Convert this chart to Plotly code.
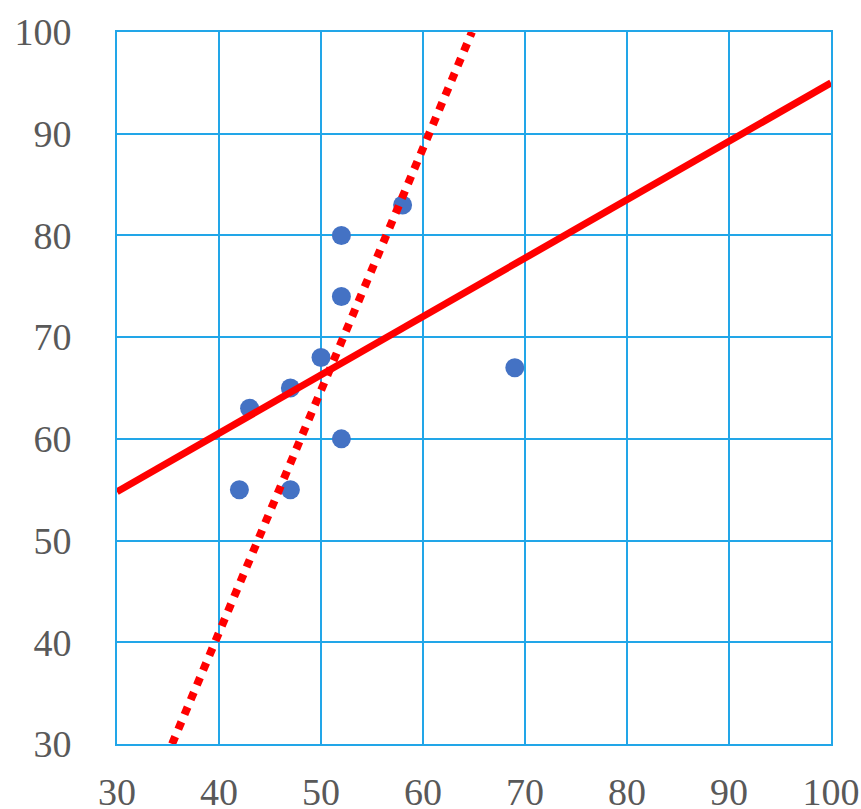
import plotly.graph_objects as go

# Scatter data
x_vals = [42, 43, 47, 47, 50, 52, 52, 52, 58, 69]
y_vals = [55, 63, 65, 55, 68, 80, 74, 60, 83, 67]

# Solid trend line endpoints
solid_x = [30, 100]
solid_y = [54.8, 95.0]

# Dotted trend line endpoints
dotted_x = [35.4, 64.8]
dotted_y = [30, 100]

x_ticks = [30, 40, 50, 60, 70, 80, 90, 100]
y_ticks = [30, 40, 50, 60, 70, 80, 90, 100]

grid_color = "#22A6E8"
font = dict(family="Liberation Serif, Times New Roman, serif", size=38, color="#595959")

fig = go.Figure()
fig.add_trace(go.Scatter(x=x_vals, y=y_vals, mode="markers",
                         marker=dict(color="#4472C4", size=19), cliponaxis=False))
fig.add_trace(go.Scatter(x=solid_x, y=solid_y, mode="lines",
                         line=dict(color="#FF0000", width=7)))
fig.add_trace(go.Scatter(x=dotted_x, y=dotted_y, mode="lines",
                         line=dict(color="#FF0000", width=8, dash="dot")))

fig.update_layout(
    width=861, height=809,
    margin=dict(l=117, r=30, t=32, b=65, autoexpand=False),
    plot_bgcolor="white", paper_bgcolor="white",
    showlegend=False,
    font=font,
)
fig.update_xaxes(range=[30, 100], tickvals=x_ticks, ticktext=[str(v) for v in x_ticks],
                 showgrid=True, gridcolor=grid_color, gridwidth=2,
                 showline=True, linecolor=grid_color, linewidth=2, mirror=True,
                 zeroline=False, ticks="", ticklabelstandoff=13, tickfont=font,
                 automargin=False)
fig.update_yaxes(range=[30, 100], tickvals=y_ticks, ticktext=[str(v) for v in y_ticks],
                 showgrid=True, gridcolor=grid_color, gridwidth=2,
                 showline=True, linecolor=grid_color, linewidth=2, mirror=True,
                 zeroline=False, ticks="", ticklabelstandoff=36, tickfont=font,
                 automargin=False)

# remove the default page margin so the figure fills the window exactly
fig.write_html("out.html", config={"displayModeBar": False},
               post_script="document.body.style.margin='0';document.body.style.overflow='hidden';")
